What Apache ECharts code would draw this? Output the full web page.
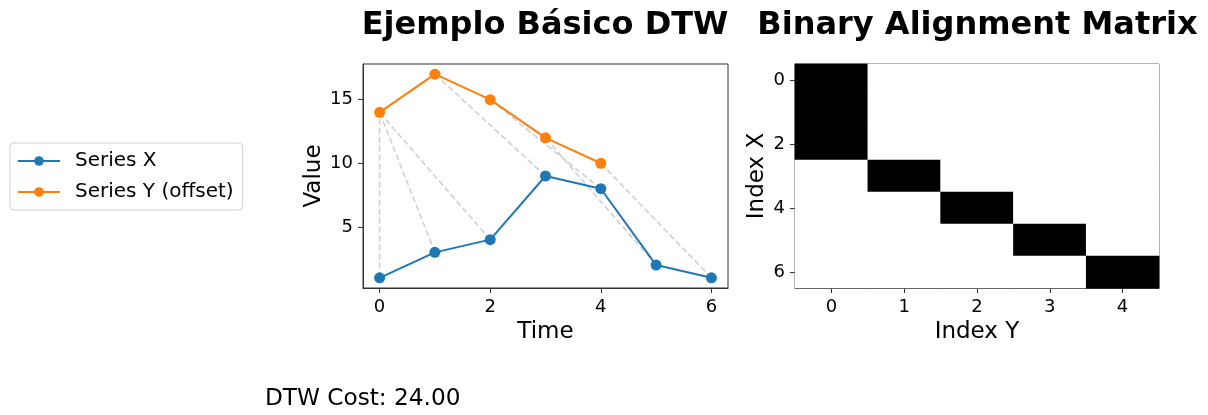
<!DOCTYPE html>
<html><head><meta charset="utf-8">
<script src="https://cdn.jsdelivr.net/npm/echarts@6/dist/echarts.min.js"></script>
<style>html,body{margin:0;padding:0;background:#fff}#c{width:1208px;height:415px}</style>
</head><body><div id="c"></div>
<script>
const timeX = [0,1,2,3,4,5,6];
const seriesX = [1,3,4,9,8,2,1];
const timeY = [0,1,2,3,4];
const seriesY = [14,17,15,12,10];
// DTW alignment path: [index in X, index in Y]
const pathX = [0,1,2,3,4,5,6];
const pathY = [0,0,0,1,2,3,4];
const indexYLabels = ['0','1','2','3','4'];
const indexXLabels = ['0','1','2','3','4','5','6'];
const xTicks = [0,2,4,6];
const yTicks = [5,10,15];
const costText = 'DTW Cost: 24.00';

const FONT = 'DejaVu Sans';
const chart = echarts.init(document.getElementById('c'), null, {renderer:'canvas'});

const matchSeries = pathX.map((xi,k)=>({
  type:'line', xAxisIndex:0, yAxisIndex:0, silent:true, symbol:'none', z:1,
  data:[[timeX[xi], seriesX[xi]],[timeY[pathY[k]], seriesY[pathY[k]]]],
  lineStyle:{color:'#d0d0d0', type:[6,3], width:1.6}
}));

const heat = [];
for(let i=0;i<indexXLabels.length;i++){
  for(let j=0;j<indexYLabels.length;j++){
    let v=0;
    for(let k=0;k<pathX.length;k++) if(pathX[k]===i && pathY[k]===j) v=1;
    heat.push({value:[j,i,v], itemStyle:{color: v? '#000000':'#ffffff'}});
  }
}

const tickLabel = {fontFamily:FONT, fontSize:18, color:'#000'};
const axisLine = {show:true, onZero:false, lineStyle:{color:'#333'}};
chart.setOption({
  animation:false,
  textStyle:{fontFamily:FONT},
  title:[
    {text:'Ejemplo Básico DTW', left:540, top:5, textAlign:'center', textStyle:{fontFamily:FONT, fontSize:32, fontWeight:'bold', color:'#000'}},
    {text:'Binary Alignment Matrix', left:972.5, top:5, textAlign:'center', textStyle:{fontFamily:FONT, fontSize:32, fontWeight:'bold', color:'#000'}}
  ],
  legend:{
    left:10, top:143, orient:'vertical', data:['Series X','Series Y (offset)'],
    borderColor:'#d0d0d0', borderWidth:1, borderRadius:4, padding:[8,9,8,7],
    itemWidth:42, itemHeight:12, itemGap:11,
    textStyle:{fontFamily:FONT, fontSize:20, color:'#000', padding:[0,0,0,10]}
  },
  grid:[
    {left:363, top:64, width:365, height:224, show:true, borderColor:'#333', borderWidth:1, backgroundColor:'transparent'},
    {left:795, top:64, width:364, height:224, show:true, borderColor:'#333', borderWidth:1, backgroundColor:'transparent'}
  ],
  xAxis:[
    {type:'value', gridIndex:0, min:-0.3, max:6.3, name:'Time', nameLocation:'middle', nameGap:31,
     nameTextStyle:{fontFamily:FONT, fontSize:23, color:'#000'},
     axisLine:axisLine, splitLine:{show:false},
     axisTick:{show:true, customValues:xTicks, length:5, lineStyle:{color:'#333'}},
     axisLabel:{...tickLabel, customValues:xTicks, margin:10}},
    {type:'category', gridIndex:1, data:indexYLabels, name:'Index Y', nameLocation:'middle', nameGap:31,
     nameTextStyle:{fontFamily:FONT, fontSize:23, color:'#000'},
     axisLine:axisLine, splitLine:{show:false},
     axisTick:{show:true, alignWithLabel:true, length:5, lineStyle:{color:'#333'}},
     axisLabel:{...tickLabel, margin:10}}
  ],
  yAxis:[
    {type:'value', gridIndex:0, min:0.2, max:17.8, name:'Value', nameLocation:'middle', nameGap:37,
     nameTextStyle:{fontFamily:FONT, fontSize:23, color:'#000'},
     axisLine:axisLine, splitLine:{show:false},
     axisTick:{show:true, customValues:yTicks, length:5, lineStyle:{color:'#333'}},
     axisLabel:{...tickLabel, customValues:yTicks, margin:10}},
    {type:'category', gridIndex:1, data:indexXLabels, inverse:true, name:'Index X', nameLocation:'middle', nameGap:26,
     nameTextStyle:{fontFamily:FONT, fontSize:23, color:'#000'},
     axisLine:axisLine, splitLine:{show:false},
     axisTick:{show:true, alignWithLabel:true, interval:1, length:5, lineStyle:{color:'#333'}},
     axisLabel:{...tickLabel, interval:1, margin:10}}
  ],
  graphic:[{type:'text', left:265, top:387, style:{text:costText, fontFamily:FONT, fontSize:23.2, fill:'#000'}}],
  series:[
    ...matchSeries,
    {name:'Series X', type:'line', xAxisIndex:0, yAxisIndex:0, z:3, data:timeX.map((t,i)=>[t,seriesX[i]]),
     symbol:'circle', symbolSize:11, itemStyle:{color:'#1f77b4'}, lineStyle:{color:'#1f77b4', width:2}},
    {name:'Series Y (offset)', type:'line', xAxisIndex:0, yAxisIndex:0, z:3, data:timeY.map((t,i)=>[t,seriesY[i]]),
     symbol:'circle', symbolSize:11, itemStyle:{color:'#ff7f0e'}, lineStyle:{color:'#ff7f0e', width:2}},
    {type:'heatmap', xAxisIndex:1, yAxisIndex:1, data:heat, silent:true}
  ]
});
</script></body></html>
